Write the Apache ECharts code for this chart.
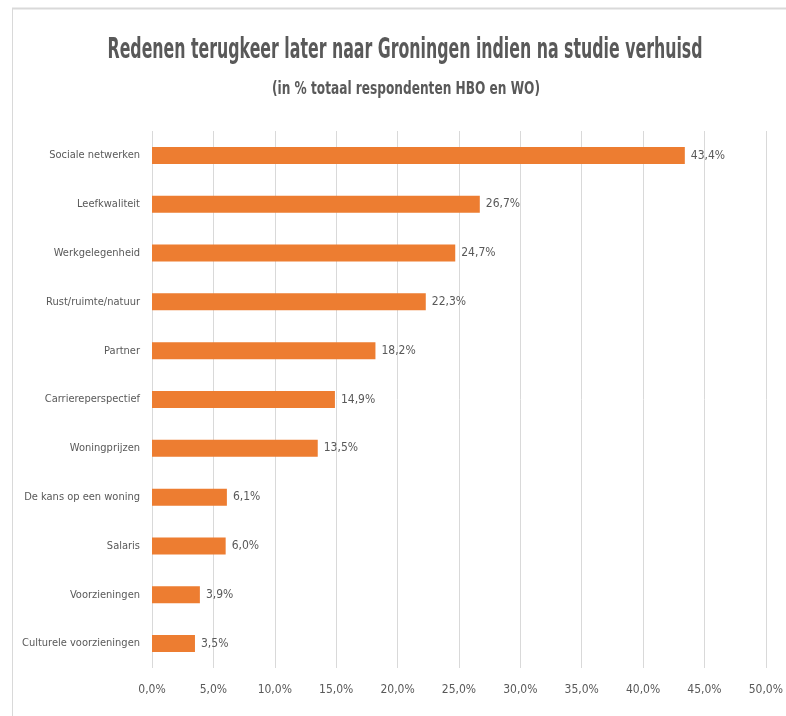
<!DOCTYPE html>
<html><head><meta charset="utf-8">
<script src="https://cdn.jsdelivr.net/npm/echarts@6/dist/echarts.min.js"></script>
<style>html,body{margin:0;padding:0;background:#fff}#c{width:786px;height:716px}</style>
</head><body><div id="c"></div>
<script>
const categories = ["Sociale netwerken","Leefkwaliteit","Werkgelegenheid","Rust/ruimte/natuur","Partner","Carriereperspectief","Woningprijzen","De kans op een woning","Salaris","Voorzieningen","Culturele voorzieningen"];
const values = [43.4,26.7,24.7,22.3,18.2,14.9,13.5,6.1,6.0,3.9,3.5];
const titleText = "Redenen terugkeer later naar Groningen indien na studie verhuisd";
const subtitleText = "(in % totaal respondenten HBO en WO)";
const FONT = "'DejaVu Sans Condensed', Roboto, sans-serif";
const fmt = v => v.toFixed(1).replace('.', ',') + '%';
function measure(text, font){const c=document.createElement('canvas').getContext('2d');c.font=font;return c.measureText(text).width;}
const TSIZE = 28, SSIZE = 18;
const tScale = 595 / measure(titleText, "bold "+TSIZE+"px "+FONT);
const sScale = 268 / measure(subtitleText, "bold "+SSIZE+"px "+FONT);
const chart = echarts.init(document.getElementById('c'));
chart.setOption({
  animation:false,
  backgroundColor:'#fff',
  graphic:[{type:'line',shape:{x1:12,y1:8.5,x2:786,y2:8.5},style:{stroke:'#d9d9d9',lineWidth:2}},
           {type:'line',shape:{x1:12.5,y1:8,x2:12.5,y2:716},style:{stroke:'#d9d9d9',lineWidth:1}},
           {type:'text',x:405,y:51,scaleX:tScale,style:{text:titleText,x:0,y:0,align:'center',verticalAlign:'middle',font:"bold "+TSIZE+"px "+FONT,fill:'#595959'}},
           {type:'text',x:406,y:89,scaleX:sScale,style:{text:subtitleText,x:0,y:0,align:'center',verticalAlign:'middle',font:"bold "+SSIZE+"px "+FONT,fill:'#595959'}}],
  grid:{left:152,right:18,top:131,bottom:48,containLabel:false},
  xAxis:{type:'value',min:0,max:50,interval:5,
    axisLine:{show:false},axisTick:{show:false},
    splitLine:{lineStyle:{color:'#d9d9d9',width:1}},
    axisLabel:{formatter:v=>fmt(v),color:'#595959',fontFamily:FONT,fontSize:12,margin:16}},
  yAxis:{type:'category',data:categories,inverse:true,
    axisLine:{show:false},axisTick:{show:false},
    axisLabel:{color:'#595959',fontFamily:FONT,fontSize:11,margin:12}},
  series:[{type:'bar',data:values,barWidth:17,
    itemStyle:{color:'#ED7D31'},
    label:{show:true,position:'right',distance:6,formatter:p=>fmt(p.value),color:'#595959',fontFamily:FONT,fontSize:12}}]
});
</script></body></html>
